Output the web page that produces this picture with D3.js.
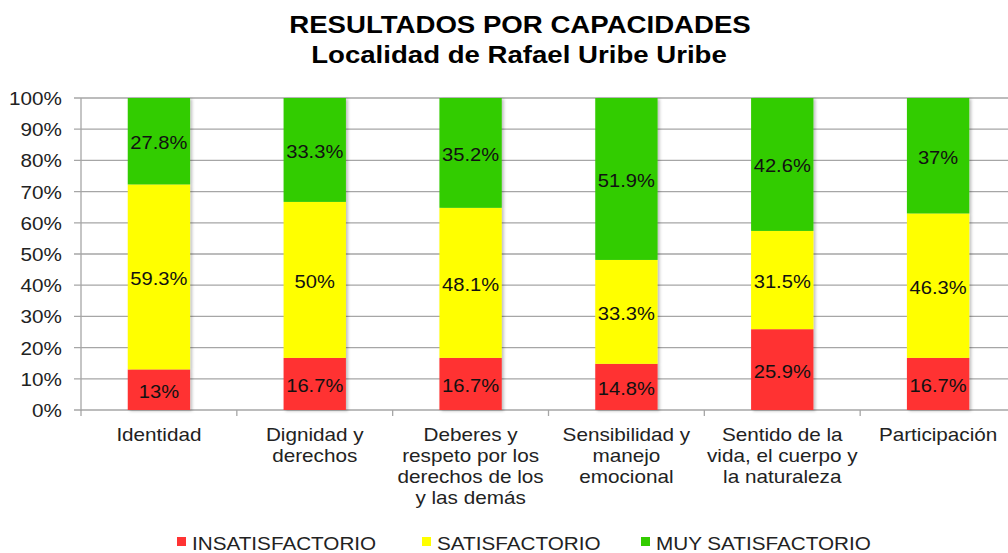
<!DOCTYPE html>
<html>
<head>
<meta charset="utf-8">
<script src="https://cdn.jsdelivr.net/npm/d3@7"></script>
<style>
  body { margin: 0; background: #fff; }
  svg { display: block; font-family: "Liberation Sans", Arial, sans-serif; }
</style>
</head>
<body>
<div class="chart"></div>
<script>
var categories = [
  ['Identidad'],
  ['Dignidad y', 'derechos'],
  ['Deberes y', 'respeto por los', 'derechos de los', 'y las demás'],
  ['Sensibilidad y', 'manejo', 'emocional'],
  ['Sentido de la', 'vida, el cuerpo y', 'la naturaleza'],
  ['Participación']
];
var insatisfactorio = [13, 16.7, 16.7, 14.8, 25.9, 16.7];
var satisfactorio = [59.3, 50, 48.1, 33.3, 31.5, 46.3];
var muySatisfactorio = [27.8, 33.3, 35.2, 51.9, 42.6, 37];
var seriesNames = ['INSATISFACTORIO', 'SATISFACTORIO', 'MUY SATISFACTORIO'];
var seriesColors = ['#ff3333', '#ffff00', '#33cc00'];
var yTicks = [0, 10, 20, 30, 40, 50, 60, 70, 80, 90, 100];

var w = 1008, h = 553;
var svg = d3.select('.chart').append('svg')
  .attr('width', w)
  .attr('height', h);

var defs = svg.append('defs');
var f = defs.append('filter').attr('id', 'shadow')
  .attr('x', '-10%').attr('y', '-5%').attr('width', '130%').attr('height', '115%');
f.append('feDropShadow').attr('dx', 2).attr('dy', 1).attr('stdDeviation', 1.5)
  .attr('flood-color', '#000').attr('flood-opacity', 0.25);

var pLeft = 81, pRight = 1016, pTop = 98, pBottom = 410;
var sx = 1.15; // text in the picture is stretched sideways

var x = d3.scaleBand()
  .domain(d3.range(categories.length))
  .range([pLeft, pRight])
  .paddingInner(0.6)
  .paddingOuter(0.3);
var y = d3.scaleLinear().domain([0, 100]).range([pBottom, pTop]);

function stretched(g, tx, ty, k){
  return g.append('text')
    .attr('transform', 'translate(' + tx + ',' + ty + ') scale(' + k + ',1)');
}

// title
stretched(svg, 520, 33, sx)
  .attr('text-anchor', 'middle').style('font-weight', 'bold').style('font-size', '24px')
  .text('RESULTADOS POR CAPACIDADES');
stretched(svg, 519, 63, sx)
  .attr('text-anchor', 'middle').style('font-weight', 'bold').style('font-size', '24px')
  .text('Localidad de Rafael Uribe Uribe');

// grid
svg.append('g').selectAll('line')
  .data(yTicks).enter().append('line')
  .attr('x1', pLeft - 7).attr('x2', pRight)
  .attr('y1', function(d){ return y(d); })
  .attr('y2', function(d){ return y(d); })
  .style('stroke', '#a6a6a6').style('stroke-width', 1.3);

svg.append('line')
  .attr('x1', pLeft).attr('x2', pLeft).attr('y1', pTop).attr('y2', pBottom + 1)
  .style('stroke', '#a6a6a6').style('stroke-width', 1.3);

// category ticks
svg.append('g').selectAll('line')
  .data(d3.range(categories.length + 1)).enter().append('line')
  .attr('x1', function(d){ return pLeft + d * x.step(); })
  .attr('x2', function(d){ return pLeft + d * x.step(); })
  .attr('y1', pBottom).attr('y2', pBottom + 6)
  .style('stroke', '#a6a6a6').style('stroke-width', 1.3);

var yLab = svg.append('g');
yTicks.forEach(function(d){
  stretched(yLab, 62, y(d) + 7, sx)
    .attr('text-anchor', 'end').style('font-size', '18px').style('fill', '#222')
    .text(d + '%');
});

// stacked bars
var rows = categories.map(function(c, i){
  return { i: i, a: insatisfactorio[i], b: satisfactorio[i], c: muySatisfactorio[i] };
});
var stack = d3.stack().keys(['a', 'b', 'c'])(rows);

var barG = svg.append('g').attr('filter', 'url(#shadow)');
var layers = barG.selectAll('g')
  .data(stack).enter().append('g')
  .style('fill', function(d, k){ return seriesColors[k]; });

layers.selectAll('rect')
  .data(function(d){ return d; })
  .enter().append('rect')
  .attr('x', function(d){ return x(d.data.i); })
  .attr('width', x.bandwidth())
  .attr('y', function(d){ return y(Math.min(d[1], 100)); })
  .attr('height', function(d){ return y(d[0]) - y(Math.min(d[1], 100)); });

var valG = svg.append('g');
stack.forEach(function(layer){
  layer.forEach(function(d){
    var top1 = Math.min(d[1], 100);
    stretched(valG, x(d.data.i) + x.bandwidth() / 2, y((d[0] + top1) / 2) + 8, 1.12)
      .attr('text-anchor', 'middle').style('font-size', '18px').style('fill', '#111')
      .text((d[1] - d[0]).toFixed(1).replace('.0', '') + '%');
  });
});

// category labels
var catG = svg.append('g');
categories.forEach(function(lines, i){
  lines.forEach(function(l, j){
    stretched(catG, x(i) + x.bandwidth() / 2, 441 + j * 21, sx)
      .attr('text-anchor', 'middle').style('font-size', '18px').style('fill', '#222')
      .text(l);
  });
});

// legend
var legX = [177, 422, 641];
var leg = svg.append('g');
seriesNames.forEach(function(d, k){
  leg.append('rect')
    .attr('x', legX[k]).attr('y', 537).attr('width', 9).attr('height', 9)
    .style('fill', seriesColors[k]);
  stretched(leg, legX[k] + 15, 550, sx)
    .style('font-size', '18px').style('fill', '#222')
    .text(d);
});
</script>
</body>
</html>
